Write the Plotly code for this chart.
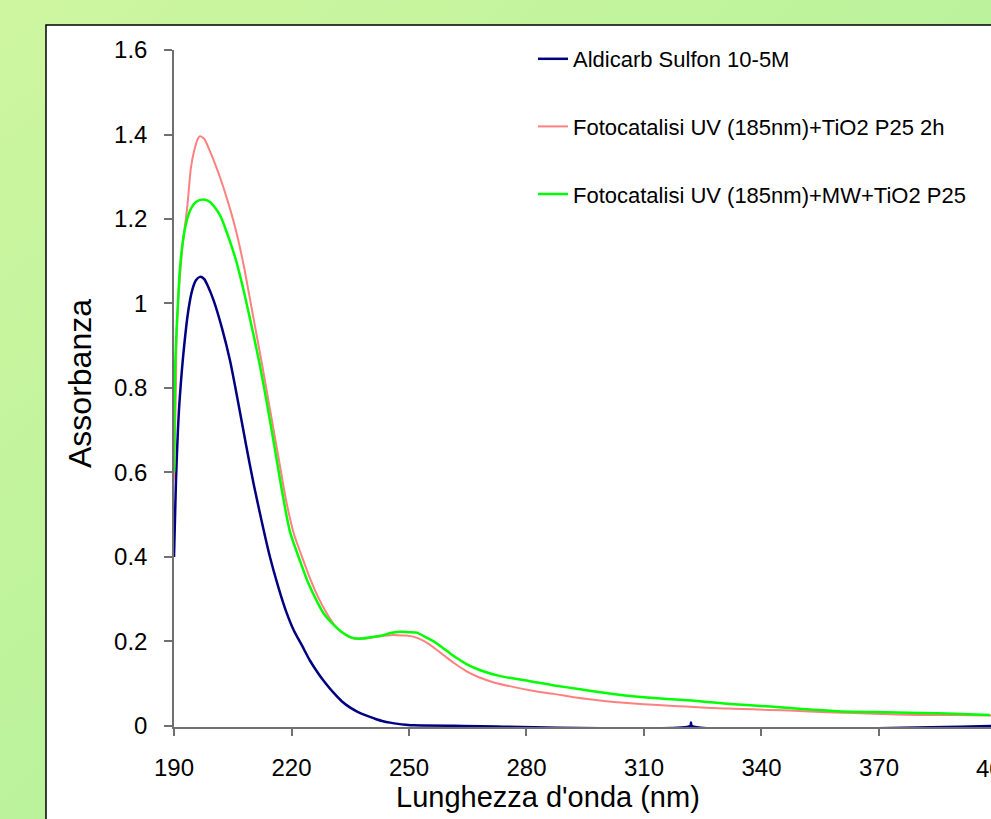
import base64
import plotly.graph_objects as go

# ---------------- data ----------------
wl_ald = [190, 190.5, 191, 191.5, 192.6, 193.6, 194.6, 195.6, 196.6, 197.7, 198.7, 200.2,
          202.3, 204.3, 206.3, 208.4, 210.4, 212.5, 214.5, 216.6, 218.6, 220.6, 222.7, 224.7,
          226.8, 228.8, 230.9, 232.9, 234.9, 237, 239, 241.1, 243.1, 245.2, 247.2, 249.2,
          251.3, 261.5, 321.8, 322, 322.2, 398.6]
abs_ald = [0.40, 0.58, 0.70, 0.78, 0.90, 0.98, 1.03, 1.055, 1.063, 1.058, 1.04, 1.005,
           0.94, 0.865, 0.77, 0.665, 0.57, 0.48, 0.40, 0.33, 0.272, 0.226, 0.19, 0.155,
           0.125, 0.10, 0.077, 0.058, 0.044, 0.033, 0.025, 0.018, 0.012, 0.008, 0.005, 0.003,
           0.0015, 0.0005, 0.0, 0.008, 0.0, 0.0]

wl_uv = [190, 190.5, 190.7, 192, 193.4, 194.3, 195.1, 196.1, 196.6, 197.7, 199.2, 200.7,
         201.7, 203.8, 205.9, 207.8, 210.2, 212.5, 214.5, 216.6, 218.6, 220.6, 222.7, 224.7,
         226.8, 228.8, 230.9, 232.9, 234.9, 237, 239, 241.1, 243.1, 245.2, 247.2, 249.2,
         251.3, 253.4, 255.4, 257.4, 259.5, 261.5, 264.6, 267.7, 271.7, 276.8, 281.9, 287,
         292.1, 297.2, 302.3, 307.4, 312.5, 318.7, 322.8, 328.9, 333, 342.2, 348.4, 358.6,
         368.8, 380, 389.2, 398.6]
abs_uv = [0.58, 0.80, 0.94, 1.12, 1.23, 1.32, 1.36, 1.39, 1.396, 1.39, 1.36, 1.325,
          1.30, 1.24, 1.17, 1.09, 0.97, 0.855, 0.75, 0.64, 0.535, 0.455, 0.40, 0.35,
          0.305, 0.27, 0.24, 0.222, 0.21, 0.206, 0.207, 0.21, 0.213, 0.215, 0.215, 0.214,
          0.211, 0.203, 0.192, 0.178, 0.163, 0.149, 0.13, 0.116, 0.103, 0.092, 0.083, 0.076,
          0.068, 0.062, 0.057, 0.053, 0.05, 0.047, 0.045, 0.042, 0.041, 0.038, 0.036, 0.032,
          0.029, 0.026, 0.026, 0.025]

wl_mw = [190, 190.3, 191, 191.5, 192.3, 193.1, 194.1, 195.6, 197.5, 199.2, 201.7, 203.8,
         205.9, 207.8, 210.2, 211.9, 213.7, 215.5, 217.6, 219.6, 222.2, 224.2, 226.5, 228.3,
         230.7, 232.9, 235.8, 238, 240.9, 243.1, 245.2, 247.7, 249.8, 252, 253.9, 256.2,
         258.5, 261.5, 264.8, 268.2, 273.3, 280.9, 287.1, 293.7, 300.3, 306.5, 312.6, 319.2,
         324.9, 332, 342.2, 350.4, 359.3, 368.8, 380.5, 389.2, 398.3]
abs_mw = [0.60, 0.85, 1.0, 1.08, 1.15, 1.19, 1.22, 1.24, 1.246, 1.24, 1.21, 1.16,
          1.10, 1.03, 0.93, 0.855, 0.765, 0.67, 0.555, 0.46, 0.39, 0.34, 0.295, 0.265,
          0.24, 0.222, 0.208, 0.207, 0.211, 0.214, 0.22, 0.223, 0.222, 0.221, 0.212, 0.201,
          0.186, 0.165, 0.146, 0.132, 0.118, 0.106, 0.096, 0.087, 0.078, 0.071, 0.066, 0.062,
          0.058, 0.052, 0.046, 0.04, 0.035, 0.033, 0.031, 0.029, 0.026]

series_names = ["Aldicarb Sulfon 10-5M",
                "Fotocatalisi UV (185nm)+TiO2 P25 2h",
                "Fotocatalisi UV (185nm)+MW+TiO2 P25"]
series_colors = ["#000080", "#FF8080", "#00FF00"]
series_widths = [2.5, 2, 2.5]

x_tick_vals = [190, 220, 250, 280, 310, 340, 370, 400]
x_tick_text = ["190", "220", "250", "280", "310", "340", "370", "400"]
y_tick_vals = [0, 0.2, 0.4, 0.6, 0.8, 1.0, 1.2, 1.4, 1.6]
y_tick_text = ["0", "0.2", "0.4", "0.6", "0.8", "1", "1.2", "1.4", "1.6"]

x_title = "Lunghezza d'onda (nm)"
y_title = "Assorbanza"

# ---------------- layout geometry ----------------
W, H = 991, 819
ML, MT, MB, MR = 174, 50, 92, 0
PW, PH = W - ML - MR, H - MT - MB
X_RANGE = [190, 398.6]
Y_RANGE = [-0.0024, 1.6]
FONT = "Liberation Sans, Arial, sans-serif"
TICK_SIZE = 24


def px_x(p):
    return (p - ML) / PW


def px_y(p):
    return (H - MB - p) / PH


fig = go.Figure()
for wl, ab, name, col, lw in zip([wl_ald, wl_uv, wl_mw], [abs_ald, abs_uv, abs_mw],
                                 series_names, series_colors, series_widths):
    fig.add_trace(go.Scatter(x=wl, y=ab, mode="lines", name=name, legendgroup=name,
                             line=dict(color=col, width=lw, shape="spline", smoothing=0.7)))

# green gradient background as an SVG image
svg = ('<svg xmlns="http://www.w3.org/2000/svg" width="991" height="819">'
       '<defs><linearGradient id="g" x1="0" y1="0" x2="1" y2="1">'
       '<stop offset="0" stop-color="#CEF6A0"/><stop offset="1" stop-color="#A8EF96"/>'
       '</linearGradient></defs><rect width="991" height="819" fill="url(#g)"/></svg>')
svg_uri = "data:image/svg+xml;base64," + base64.b64encode(svg.encode()).decode()

fig.add_layout_image(dict(source=svg_uri, xref="paper", yref="paper",
                          x=px_x(0), y=px_y(0), sizex=W / PW, sizey=H / PH,
                          xanchor="left", yanchor="top", sizing="stretch", layer="below"))

# white chart box with black border (extends past the window)
fig.add_shape(type="rect", xref="paper", yref="paper",
              x0=px_x(46), x1=px_x(1100), y0=px_y(900), y1=px_y(25),
              fillcolor="white", line=dict(color="black", width=1.5), layer="below")

# the last tick label, partly beyond the window edge
fig.add_annotation(text=x_tick_text[-1], xref="paper", yref="paper",
                   x=(x_tick_vals[-1] - X_RANGE[0]) / (X_RANGE[1] - X_RANGE[0]),
                   y=px_y(768), xanchor="center", yanchor="middle", showarrow=False,
                   font=dict(family=FONT, size=TICK_SIZE, color="black"))

# x axis title
fig.add_annotation(text=x_title, xref="paper", yref="paper",
                   x=px_x(548), y=px_y(797), xanchor="center", yanchor="middle",
                   showarrow=False, font=dict(family=FONT, size=29, color="black"))

# y axis title
fig.add_annotation(text=y_title, xref="paper", yref="paper", textangle=-90,
                   x=px_x(80), y=px_y(384), xanchor="center", yanchor="middle",
                   showarrow=False, font=dict(family=FONT, size=32, color="black"))

fig.update_layout(
    width=W, height=H,
    margin=dict(l=ML, r=MR, t=MT, b=MB, autoexpand=False),
    paper_bgcolor="#C4F49E", plot_bgcolor="white",
    font=dict(family=FONT, color="black"),
    showlegend=True,
    legend=dict(x=px_x(533), y=px_y(38), xanchor="left", yanchor="top",
                bgcolor="rgba(0,0,0,0)", borderwidth=0,
                font=dict(family=FONT, size=22, color="black"),
                traceorder="grouped", tracegroupgap=36),
    xaxis=dict(range=X_RANGE, tickvals=x_tick_vals, ticktext=x_tick_text,
               showgrid=False, zeroline=False, showline=True, linecolor="#707070",
               linewidth=1.5, ticks="outside", ticklen=7, tickcolor="#707070",
               tickwidth=1.5, tickfont=dict(family=FONT, size=TICK_SIZE, color="black"),
               ticklabelstandoff=11, layer="below traces"),
    yaxis=dict(range=Y_RANGE, tickvals=y_tick_vals, ticktext=y_tick_text,
               showgrid=False, zeroline=False, showline=True, linecolor="#707070",
               linewidth=1.5, ticks="outside", ticklen=8, tickcolor="#707070",
               tickwidth=1.5, tickfont=dict(family=FONT, size=TICK_SIZE, color="black"),
               ticklabelstandoff=12, layer="below traces"),
)

fig.write_html("out.html", config={"displayModeBar": False},
               post_script="document.body.style.margin='0';"
                           "document.body.style.overflow='hidden';")
